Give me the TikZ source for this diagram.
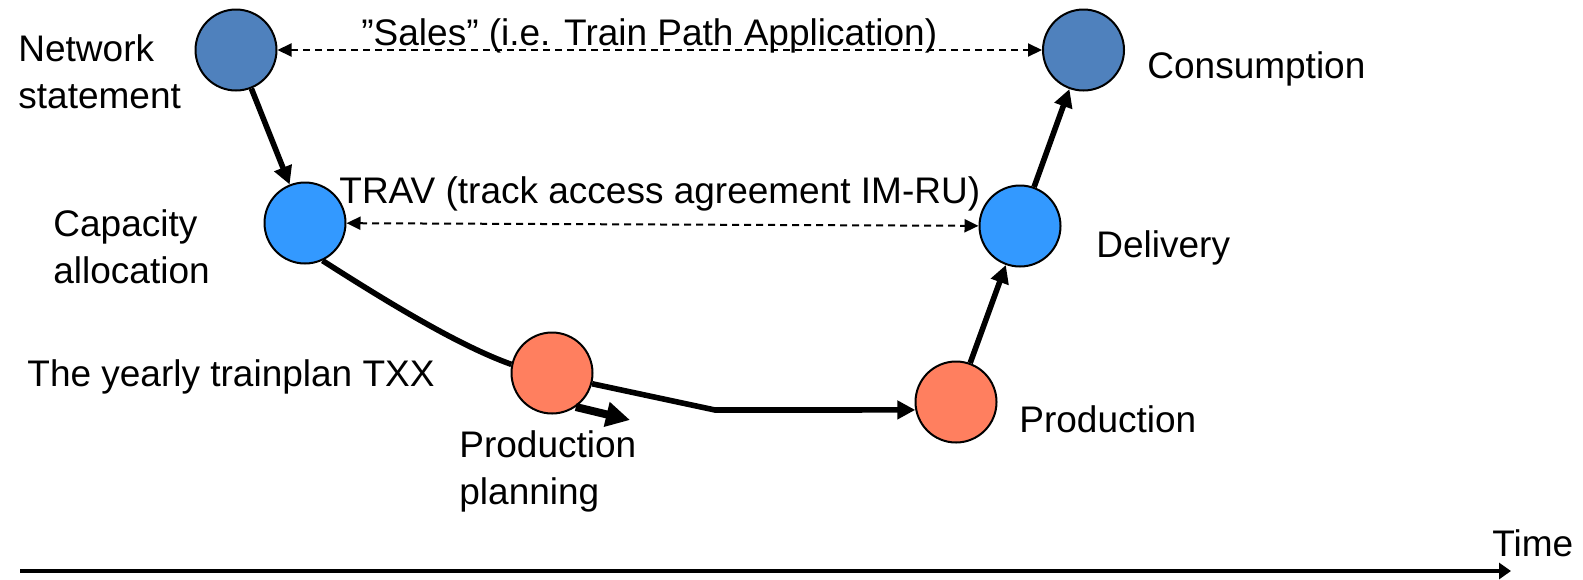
\documentclass[tikz,border=0pt]{standalone}
\usepackage{fontspec}
\setmainfont{Liberation Sans}
\usetikzlibrary{arrows.meta}
\definecolor{darkblue}{RGB}{79,129,189}
\definecolor{lightblue}{RGB}{51,153,255}
\definecolor{salmonred}{RGB}{255,127,95}
\begin{document}
\begin{tikzpicture}[x=0.5pt,y=-0.5pt,
  stage/.style={circle,draw=black,line width=1pt,minimum size=40.5pt,inner sep=0pt},
  darkstage/.style={stage,fill=darkblue},
  lightstage/.style={stage,fill=lightblue},
  orangestage/.style={stage,fill=salmonred},
  lbl/.style={inner sep=0pt,anchor=base west,font=\fontsize{18.5}{23.5}\selectfont,align=left},
  flow/.style={line width=2.8pt,-{Triangle[length=9pt,width=9pt]}},
  plainflow/.style={line width=2.8pt},
  bigflow/.style={line width=4pt,-{Triangle[length=12pt,width=12pt]}},
  agree/.style={line width=1pt,dash pattern=on 3.5pt off 2.5pt,{Triangle[length=7pt,width=6.5pt]}-{Triangle[length=7pt,width=6.5pt]}},
  timeaxis/.style={line width=1.8pt,-{Triangle[length=6pt,width=8pt]}}
]
\useasboundingbox (0,0) rectangle (1583,579);

% stages
\node[darkstage] (net) at (236,50) {};
\node[darkstage] (con) at (1083.5,50) {};
\node[lightstage] (cap) at (305,223) {};
\node[lightstage] (del) at (1020,226) {};
\node[orangestage] (pp) at (552,373) {};
\node[orangestage] (prod) at (956,402) {};

% labels
\node[lbl] (netl) at (18,108) {Network\\statement};
\node[lbl] (capl) at (53,283) {Capacity\\allocation};
\node[lbl] (txx) at (27,386) {The yearly trainplan TXX};
\node[lbl] (ppl) at (459,504) {Production\\planning};
\node[lbl] (conl) at (1147,78) {Consumption};
\node[lbl] (dell) at (1096,257) {Delivery};
\node[lbl] (prodl) at (1019,432) {Production};
\node[lbl] (sales) at (361,45) {”Sales” (i.e. Train Path Application)};
\node[lbl] (trav) at (339,203) {TRAV (track access agreement IM-RU)};
\node[lbl] (timel) at (1492,556) {Time};

% connectors
\draw[flow] (net) -- (cap);
\draw[flow] (prod) -- (del);
\draw[flow] (del) -- (con);
\draw[agree] (net) -- (con);
\draw[agree] (cap) -- (del);
\draw[plainflow] (cap.-65) .. controls (392,305) and (460,346) .. (pp.168);
\coordinate (bend) at (715,410);
\draw[flow] (pp.-15) -- (bend) -- (prod.191);
\coordinate (ppt) at (630,420);
\draw[bigflow] (pp.-55) -- (ppt);

% time axis
\coordinate (t0) at (20,571);
\coordinate (t1) at (1511,571);
\draw[timeaxis] (t0) -- (t1);
\end{tikzpicture}
\end{document}
